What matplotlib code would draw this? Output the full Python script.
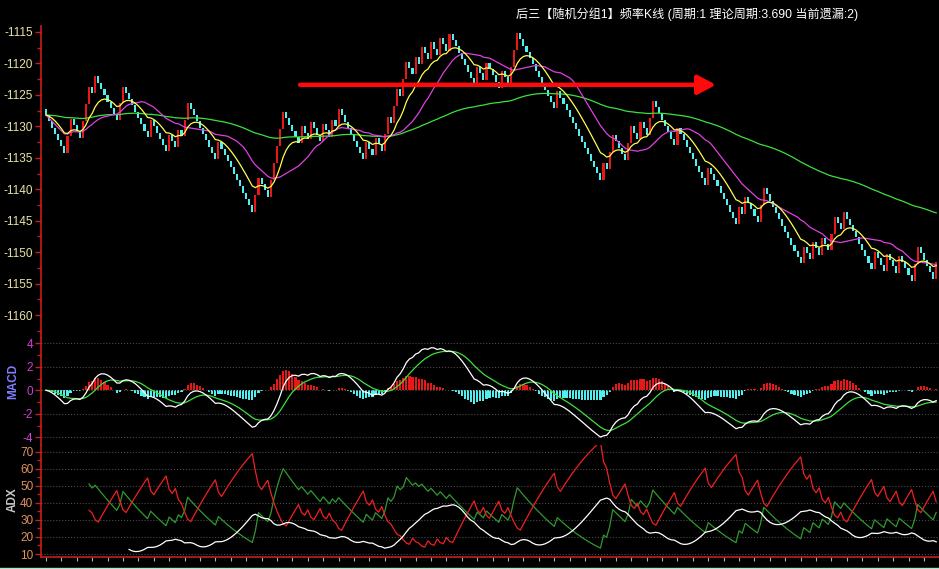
import numpy as np
import pandas as pd
import matplotlib
matplotlib.use('Agg')
import matplotlib.pyplot as plt
from matplotlib.lines import Line2D
from matplotlib.ticker import MultipleLocator

plt.rcParams['font.family'] = ['Liberation Sans', 'Noto Sans CJK SC', 'DejaVu Sans']
plt.rcParams['axes.unicode_minus'] = False

# hit (1) / miss (0) for each period, read brick by brick
hits_parts = [
    "0000000" "11" "000" "111" "0" "1" "0000000" "11" "00000000" "1" "00000" "1" "00" "1" "0" "11",
    "000000000" "1" "00000000000" "11" "000" "11111" "00000" "1" "00" "1" "000" "1" "00" "1" "0" "1",
    "00000000" "1" "00" "1" "00" "1" "1" "0" "11" "0" "11" "00" "1" "0" "1" "00" "1" "00" "1" "00" "1",
    "00000000" "1" "00" "1" "0000" "1" "00" "111",
    "000000000000" "1" "00000000000000" "1" "0" "11" "0000" "1",
    "1" "00" "1" "00" "11",
    "0000000" "1" "000000000" "1" "000000000" "1" "0" "1" "0000" "11",
    "000000000000" "1" "00" "1" "00" "1" "00" "11" "00" "1" "000000000" "1" "000" "1" "000" "1" "0000" "11" "00000" "1",
]
start_value = -1127.2
cycle = 3.690
title = "后三【随机分组1】频率K线 (周期:1 理论周期:3.690 当前遗漏:2)"

hits = np.array([int(c) for c in "".join(hits_parts)])
step = np.where(hits == 1, cycle - 1, -1.0)
close = start_value + np.cumsum(step)
opn = np.concatenate([[start_value], close[:-1]])
n = len(close)
x = np.arange(n)
c = pd.Series(close)

ma_y = c.ewm(span=10, adjust=False).mean()
ma_m = c.rolling(20, min_periods=1).mean()
ma_g = c.ewm(span=110, adjust=False).mean()

dif = c.ewm(span=12, adjust=False).mean() - c.ewm(span=26, adjust=False).mean()
dea = dif.ewm(span=9, adjust=False).mean()
hist = dif - dea


def wilder(vals, p=14, first=1):
    out = np.full(len(vals), np.nan)
    k = first + p - 1
    out[k] = np.mean(vals[first:k + 1])
    for i in range(k + 1, len(vals)):
        out[i] = out[i - 1] + (vals[i] - out[i - 1]) / p
    return out


high = np.maximum(opn, close)
low = np.minimum(opn, close)
tr = np.maximum.reduce([high - low, np.abs(high - opn), np.abs(low - opn)])
hd = np.concatenate([[0], high[1:] - high[:-1]])
ld = np.concatenate([[0], low[:-1] - low[1:]])
dmp = np.where((hd > 0) & (hd > ld), hd, 0.0)
dmm = np.where((ld > 0) & (ld > hd), ld, 0.0)
tr_s = wilder(tr)
pdi = wilder(dmp) * 100 / tr_s
mdi = wilder(dmm) * 100 / tr_s
dx = np.abs(mdi - pdi) / (mdi + pdi) * 100
adx = wilder(dx, first=14)

W, H = 939, 569
fig = plt.figure(figsize=(W / 100, H / 100), dpi=100, facecolor='black')


def box(top, bottom):
    return [41 / W, 1 - bottom / H, (W - 41) / W, (bottom - top) / H]


ax1 = fig.add_axes(box(26, 338))
ax2 = fig.add_axes(box(338, 445))
ax3 = fig.add_axes(box(445, 557))

axis_red = '#c81e1e'
for ax in (ax1, ax2, ax3):
    ax.set_facecolor('black')
    for s in ('top', 'right', 'bottom'):
        ax.spines[s].set_visible(False)
    ax.spines['left'].set_color(axis_red)
    ax.spines['left'].set_linewidth(1.2)
    ax.set_xlim(-1.6, 289.9)
    ax.tick_params(axis='y', which='both', colors=axis_red, length=4, width=1,
                   labelsize=8.5, pad=1.5)
    ax.tick_params(axis='y', which='minor', length=3)
    ax.tick_params(axis='x', which='both', bottom=False, labelbottom=False)

# price panel
up_col, dn_col = '#e81818', '#4ef0f0'
cols = np.where(close > opn, up_col, dn_col)
ax1.bar(x, close - opn, bottom=opn, width=0.68, color=cols, linewidth=0)
ax1.plot(x, ma_g, color='#3ee03e', lw=0.9)
ax1.plot(x, ma_m, color='#e040e0', lw=0.9)
ax1.plot(x, ma_y, color='#ffff50', lw=0.9)
ax1.set_ylim(-1163.65, -1114.05)
ax1.set_yticks(np.arange(-1160, -1114, 5))
ax1.set_yticklabels([str(v) for v in range(-1160, -1114, 5)])
ax1.yaxis.set_minor_locator(MultipleLocator(2.5))
for t in ax1.get_yticklabels():
    t.set_color('#e8e4a8')
ax1.annotate('', xy=(217.5, -1123.4), xytext=(82.5, -1123.4),
             arrowprops=dict(arrowstyle='-|>,head_length=0.6,head_width=0.32',
                             color='#ff0a0a', lw=3.2, mutation_scale=18,
                             shrinkA=0, shrinkB=0))
fig.text(516 / W, 1 - 14 / H, title, color='white', fontsize=8.7, ha='left', va='center')

# MACD panel
hcols = np.where(hist >= 0, up_col, dn_col)
ax2.bar(x, hist, width=0.7, color=hcols, linewidth=0)
ax2.plot(x, dea, color='#3ee03e', lw=0.9)
ax2.plot(x, dif, color='white', lw=0.9)
ax2.set_ylim(-4.66, 4.45)
ax2.set_yticks([-4, -2, 0, 2, 4])
ax2.yaxis.set_minor_locator(MultipleLocator(1))
ax2.grid(axis='y', color='#4a4a4a', linestyle=':', linewidth=0.8)
for t in ax2.get_yticklabels():
    t.set_color('#d040d0')
fig.text(13 / W, 1 - 381 / H, 'MACD', color='#8080ff', fontsize=8.5, fontweight='bold',
         rotation=90, ha='center', va='center')

# ADX panel
ax3.plot(x, pdi, color='#2e9a2e', lw=0.9)
ax3.plot(x, mdi, color='#f02020', lw=0.9)
ax3.plot(x, adx, color='white', lw=0.9)
ax3.set_ylim(8.25, 73.9)
ax3.set_yticks(range(10, 71, 10))
ax3.yaxis.set_minor_locator(MultipleLocator(5))
ax3.grid(axis='y', color='#4a4a4a', linestyle=':', linewidth=0.8)
for t in ax3.get_yticklabels():
    t.set_color('#e09060')
ax3.spines['bottom'].set_visible(True)
ax3.spines['bottom'].set_color(axis_red)
ax3.spines['bottom'].set_linewidth(1.2)
ax3.set_xticks(np.arange(0, n, 5))
ax3.tick_params(axis='x', which='major', bottom=True, colors='#b0b0b0', length=3, width=0.8)
fig.text(13 / W, 1 - 500 / H, 'ADX', color='#c8c8c8', fontsize=8.5, fontweight='bold',
         rotation=90, ha='center', va='center')

# thin window border at the bottom
fig.add_artist(Line2D([0, 1], [1 - 567.5 / H, 1 - 567.5 / H], color='#a8e8cc', lw=1,
                      transform=fig.transFigure))

fig.savefig('out.png', dpi=100, facecolor='black')
